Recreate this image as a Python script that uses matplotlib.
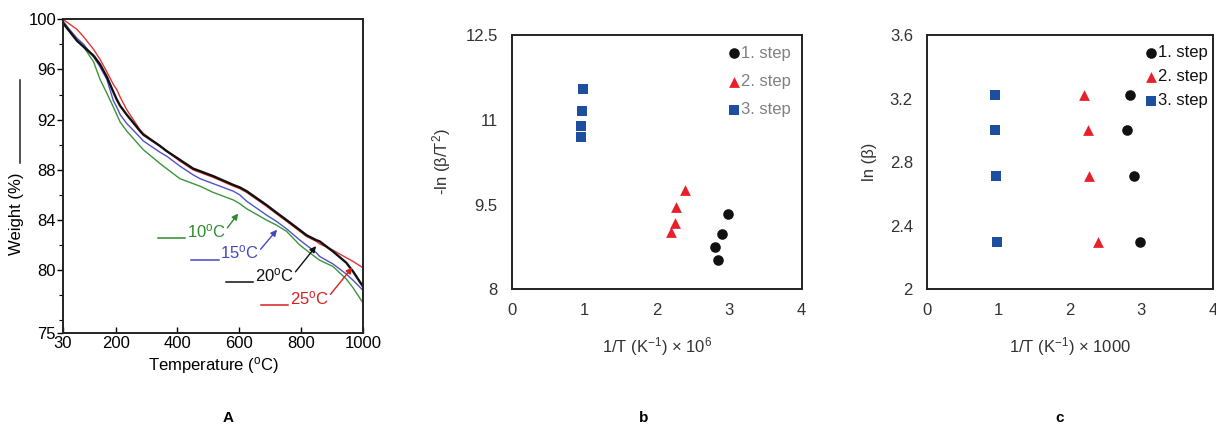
import matplotlib
matplotlib.use("Agg")
import matplotlib.pyplot as plt
from matplotlib.ticker import MultipleLocator, FormatStrFormatter
from matplotlib.lines import Line2D

plt.rcParams['font.family'] = ['Liberation Sans', 'DejaVu Sans']
plt.rcParams['mathtext.fontset'] = 'custom'
plt.rcParams['mathtext.rm'] = 'Liberation Sans'
plt.rcParams['mathtext.it'] = 'Liberation Sans:italic'
plt.rcParams['axes.unicode_minus'] = False

# TGA curves, weight (%) vs temperature (C) at four heating rates
temp = [30, 75, 97, 129, 150, 172, 193, 204, 215, 236, 279, 290, 344, 365, 408, 451,
        473, 516, 581, 602, 624, 688, 720, 753, 796, 817, 849, 860, 903, 946, 968, 1000]
w_10 = [99.9, 98.3, 97.8, 96.6, 95.2, 94.1, 93.0, 92.4, 91.8, 91.1, 89.9, 89.6, 88.5, 88.1,
        87.3, 86.9, 86.7, 86.2, 85.6, 85.3, 84.9, 84.0, 83.6, 83.1, 82.0, 81.6, 81.0, 80.8,
        80.3, 79.3, 78.6, 77.4]
w_15 = [99.8, 98.5, 98.0, 97.0, 96.2, 95.2, 93.5, 93.0, 92.4, 91.7, 90.6, 90.3, 89.4, 89.1,
        88.3, 87.6, 87.3, 86.9, 86.3, 86.0, 85.5, 84.4, 83.9, 83.3, 82.4, 82.0, 81.4, 81.1,
        80.5, 79.7, 79.2, 78.4]
w_20 = [99.7, 98.3, 97.8, 97.1, 96.4, 95.4, 94.2, 93.6, 93.1, 92.4, 91.1, 90.8, 89.9, 89.5,
        88.8, 88.1, 87.9, 87.5, 86.8, 86.6, 86.3, 85.2, 84.6, 84.0, 83.2, 82.8, 82.4, 82.3,
        81.5, 80.6, 79.9, 78.7]
w_25 = [100.0, 99.2, 98.6, 97.6, 96.8, 95.8, 94.8, 94.4, 93.8, 92.8, 91.2, 90.9, 89.9, 89.5,
        88.7, 88.0, 87.8, 87.4, 86.7, 86.5, 86.2, 85.1, 84.5, 83.9, 83.1, 82.7, 82.3, 82.1,
        81.6, 81.0, 80.7, 80.2]

rates = ['10', '15', '20', '25']
rate_colors = ['#3a963a', '#5252c8', '#111111', '#e03535']
label_colors = ['#2e8b2e', '#4646c0', '#111111', '#d62020']

# annotation anchors: (text x, text y, arrow head x, arrow head y)
label_pos = [(431, 83.1, 602, 84.7), (538, 81.4, 728, 83.4),
             (651, 79.6, 854, 82.1), (764, 77.8, 971, 80.4)]

# Kissinger / Ozawa points, heating rates 10, 15, 20, 25
steps = ['1. step', '2. step', '3. step']
inv_t = [[2.98, 2.90, 2.80, 2.84],
         [2.39, 2.27, 2.25, 2.20],
         [0.983, 0.972, 0.96, 0.95]]
kissinger = [[9.33, 8.97, 8.75, 8.51],
             [9.76, 9.45, 9.18, 9.01],
             [11.54, 11.16, 10.89, 10.69]]
ln_beta = [2.30, 2.71, 3.00, 3.22]

markers = ['o', '^', 's']
mcolors = ['#111111', '#e8202a', '#1d4f9e']
msizes = [58, 60, 52]

fig = plt.figure(figsize=(12.16, 4.32), dpi=100)

# ---- A: TGA ----
axA = fig.add_axes([0.0518, 0.2292, 0.2467, 0.7261])
for w, c, lw in zip([w_10, w_15, w_25, w_20],
                    [rate_colors[0], rate_colors[1], rate_colors[3], rate_colors[2]],
                    [1.0, 1.0, 1.0, 1.7]):
    axA.plot(temp, w, color=c, lw=lw)
axA.set_xlim(30, 1000)
axA.set_ylim(75, 100)
axA.set_xticks([30, 200, 400, 600, 800, 1000])
axA.set_yticks([75, 80, 84, 88, 92, 96, 100])
axA.yaxis.set_minor_locator(MultipleLocator(2))
axA.tick_params(axis='y', direction='out', length=4, width=1, labelsize=12, pad=1)
axA.tick_params(axis='y', which='minor', direction='out', length=3, width=0.8)
axA.tick_params(axis='x', direction='in', length=4, width=1, labelsize=12, pad=2)
for s in axA.spines.values():
    s.set_linewidth(1.4)
    s.set_color('#222222')
axA.set_xlabel(r'Temperature ($\rm ^{o}$C)', fontsize=12, labelpad=3)
axA.set_ylabel('Weight (%)', fontsize=12, labelpad=3, y=0.38)
fig.add_artist(Line2D([0.0165, 0.0165], [0.622, 0.815], color='#222222', lw=1.1))

for (tx, ty, hx, hy), r, c in zip(label_pos, rates, label_colors):
    axA.text(tx, ty, r + r'$\rm ^{o}$C', color=c, fontsize=12, va='center', ha='left')
    axA.plot([tx - 95, tx - 5], [ty - 0.55, ty - 0.55], color=c, lw=1.1)
    axA.annotate('', xy=(hx, hy), xytext=(tx + 125, ty + 0.1),
                 arrowprops=dict(arrowstyle='-|>', color=c, lw=1.0, mutation_scale=9))


# ---- b and c: scatter panels ----
def scatter_panel(rect, ys, ylim, yticks, ylabel, xlabel, text_color, spacing, pad, top):
    ax = fig.add_axes(rect)
    for i in range(3):
        ax.scatter(inv_t[i], ys[i], marker=markers[i], color=mcolors[i], s=msizes[i],
                   label=steps[i], linewidths=0, zorder=3)
    ax.set_xlim(0, 4)
    ax.set_ylim(*ylim)
    ax.set_xticks([0, 1, 2, 3, 4])
    ax.set_yticks(yticks)
    ax.yaxis.set_major_formatter(FormatStrFormatter('%g'))
    ax.tick_params(length=0, labelsize=12, labelcolor='#333333', pad=10)
    for s in ax.spines.values():
        s.set_linewidth(1.4)
        s.set_color('#222222')
    ax.set_xlabel(xlabel, fontsize=12, color='#333333', labelpad=12)
    ax.set_ylabel(ylabel, fontsize=12, color='#333333', labelpad=9)
    leg = ax.legend(loc='upper right', bbox_to_anchor=(1.0, top), frameon=False,
                    handlelength=0.6, handletextpad=0.1, markerscale=1.0,
                    labelspacing=spacing, fontsize=12, borderaxespad=pad, borderpad=0.3)
    for t in leg.get_texts():
        t.set_color(text_color)
    return ax


axB = scatter_panel([0.4208, 0.3303, 0.2385, 0.5887], kissinger, (8, 12.5),
                    [8, 9.5, 11, 12.5], '-ln (β/T$^2$)',
                    r'1/T (K$^{-1}$) × 10$^6$', '#808080', 0.8, 0.35, 1.0)
axC = scatter_panel([0.7621, 0.3303, 0.2354, 0.5887], [ln_beta] * 3, (2, 3.6),
                    [2, 2.4, 2.8, 3.2, 3.6], 'ln (β)',
                    r'1/T (K$^{-1}$) × 1000', '#111111', 0.55, 0.0, 0.98)

fig.text(0.1875, 0.016, 'A', fontsize=11, fontweight='bold', ha='center', va='bottom')
fig.text(0.5296, 0.016, 'b', fontsize=11, fontweight='bold', ha='center', va='bottom')
fig.text(0.8717, 0.016, 'c', fontsize=11, fontweight='bold', ha='center', va='bottom')

fig.savefig('out.png', dpi=100)
